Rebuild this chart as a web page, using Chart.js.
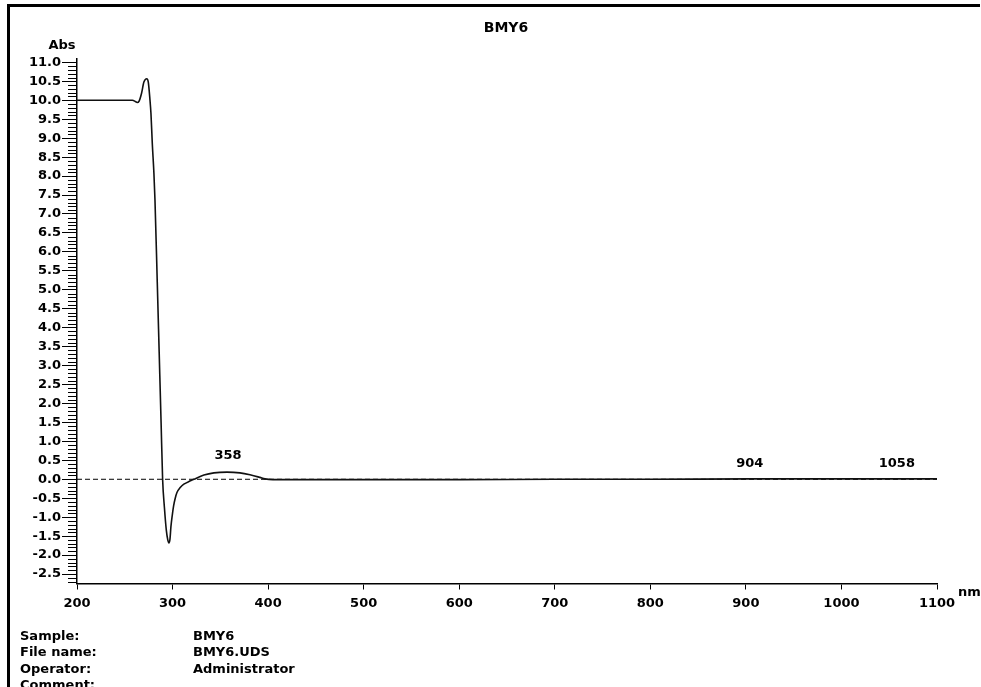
<!DOCTYPE html>
<html>
<head>
<meta charset="utf-8">
<title>BMY6</title>
<script src="https://cdn.jsdelivr.net/npm/chart.js@4.4.1/dist/chart.umd.min.js"></script>
<style>
  html, body { margin: 0; padding: 0; background: #fff; }
  #wrap { position: relative; width: 981px; height: 687px; overflow: hidden; }
  #info { position: absolute; left: 20px; top: 628px; font: bold 13px "DejaVu Sans", Verdana, sans-serif; color: #000; line-height: 16.3px; }
  #info div { white-space: nowrap; }
  #info span { display: inline-block; width: 173px; }
</style>
</head>
<body>
<div id="wrap">
  <canvas id="spec"></canvas>
  <div id="info">
    <div><span>Sample:</span>BMY6</div>
    <div><span>File name:</span>BMY6.UDS</div>
    <div><span>Operator:</span>Administrator</div>
    <div><span>Comment:</span></div>
  </div>
</div>
<script>
'use strict';

// ── Spectrum data ─────────────────────────────────────────────────
const wavelengths = [200, 240, 258, 261, 263, 265, 267.5, 270, 273, 274.6, 276.4, 277.4, 278.8, 280.5, 281.6,
  284, 286, 288, 289.6, 291.5, 293.5, 295, 296.2, 297.3, 298.3, 299.7, 301.1, 302.8, 304.6, 308, 311.8,
  318.8, 322.3, 332.8, 343.3, 357, 370.5, 381, 391.4, 396.7, 405, 430, 500, 600, 700, 800, 904, 1000, 1058, 1100];
const absorbance = [10.0, 10.0, 10.0, 9.97, 9.94, 9.98, 10.18, 10.48, 10.57, 10.48, 10.0, 9.65, 8.86, 8.07, 7.37,
  5.2, 3.35, 1.5, 0.0, -0.75, -1.35, -1.6, -1.68, -1.58, -1.25, -0.95, -0.7, -0.5, -0.35, -0.22, -0.13,
  -0.04, 0.0, 0.11, 0.17, 0.19, 0.17, 0.12, 0.05, 0.01, -0.01, -0.01, -0.01, -0.01, 0.0, 0.0, 0.01, 0.01, 0.01, 0.01];

const peakNm  = [358, 904, 1058];
const peakAbs = [0.19, 0.0, 0.0];

const xTicks = [200, 300, 400, 500, 600, 700, 800, 900, 1000, 1100];
const yTicks = [-2.5, -2.0, -1.5, -1.0, -0.5, 0.0, 0.5, 1.0, 1.5, 2.0, 2.5, 3.0, 3.5, 4.0, 4.5, 5.0,
  5.5, 6.0, 6.5, 7.0, 7.5, 8.0, 8.5, 9.0, 9.5, 10.0, 10.5, 11.0];

const FAMILY = '"DejaVu Sans", Verdana, sans-serif';
const FONT = { family: FAMILY, size: 13, weight: 'bold' };

// frame, minor ticks, captions
const decor = {
  id: 'decor',
  beforeDraw(chart) {
    const ctx = chart.ctx;
    ctx.save();
    ctx.fillStyle = '#fff';
    ctx.fillRect(0, 0, chart.width, chart.height);
    ctx.fillStyle = '#000';
    ctx.fillRect(7, 4, 973, 3);
    ctx.fillRect(7, 4, 3, chart.height);
    ctx.restore();
  },
  afterDraw(chart) {
    const ctx = chart.ctx, xs = chart.scales.x, ys = chart.scales.y;
    const ax = chart.chartArea.left;
    ctx.save();
    // minor ticks every 0.1 Abs
    ctx.strokeStyle = '#000'; ctx.lineWidth = 1;
    ctx.beginPath();
    for (let i = -27; i <= 110; i++) {
      if (i % 5 === 0) continue;
      const py = Math.round(ys.getPixelForValue(i / 10)) + 0.5;
      ctx.moveTo(ax - 9, py); ctx.lineTo(ax, py);
    }
    ctx.stroke();

    ctx.fillStyle = '#000';
    ctx.textBaseline = 'middle';
    ctx.textAlign = 'center';
    ctx.font = 'bold 14px ' + FAMILY;
    ctx.fillText('BMY6', 506, 28.5);
    ctx.font = 'bold 13px ' + FAMILY;
    ctx.fillText('Abs', 62, 46);
    peakNm.forEach((nm, i) => {
      ctx.fillText(String(nm), xs.getPixelForValue(nm), ys.getPixelForValue(peakAbs[i]) - 16);
    });
    ctx.textAlign = 'left';
    ctx.fillText('nm', 958, 593);
    ctx.restore();
  }
};

new Chart(document.getElementById('spec'), {
  type: 'line',
  data: {
    datasets: [
      {
        label: 'BMY6',
        data: wavelengths.map((w, i) => ({ x: w, y: absorbance[i] })),
        borderColor: '#111', borderWidth: 1.6,
        pointRadius: 0, cubicInterpolationMode: 'monotone', fill: false
      },
      {
        label: 'baseline',
        data: [{ x: xTicks[0], y: 0 }, { x: xTicks[xTicks.length - 1], y: 0 }],
        borderColor: '#000', borderWidth: 1, borderDash: [5, 3],
        pointRadius: 0, fill: false
      }
    ]
  },
  options: {
    responsive: true, maintainAspectRatio: false, animation: false,
    layout: { padding: { left: 0, right: 44, top: 58.6, bottom: 63.5 } },
    scales: {
      x: {
        type: 'linear', min: 200, max: 1100,
        afterBuildTicks: s => { s.ticks = xTicks.map(v => ({ value: v })); },
        afterFit: s => { s.height = 40; },
        grid: { drawOnChartArea: false, drawTicks: true, tickLength: 6, color: '#000', lineWidth: 1 },
        border: { display: true, color: '#000', width: 1.5 },
        ticks: { color: '#000', font: FONT, padding: 6, maxRotation: 0, autoSkip: false, callback: v => String(v) }
      },
      y: {
        type: 'linear', min: -2.75, max: 11.1,
        afterBuildTicks: s => { s.ticks = yTicks.map(v => ({ value: v })); },
        afterFit: s => { s.width = 77; },
        grid: { drawOnChartArea: false, drawTicks: true, tickLength: 15, color: '#000', lineWidth: 1 },
        border: { display: true, color: '#000', width: 1.5 },
        ticks: { color: '#000', font: FONT, padding: 1, autoSkip: false, callback: v => v.toFixed(1) }
      }
    },
    plugins: { legend: { display: false }, tooltip: { enabled: false } }
  },
  plugins: [decor]
});
</script>
</body>
</html>
